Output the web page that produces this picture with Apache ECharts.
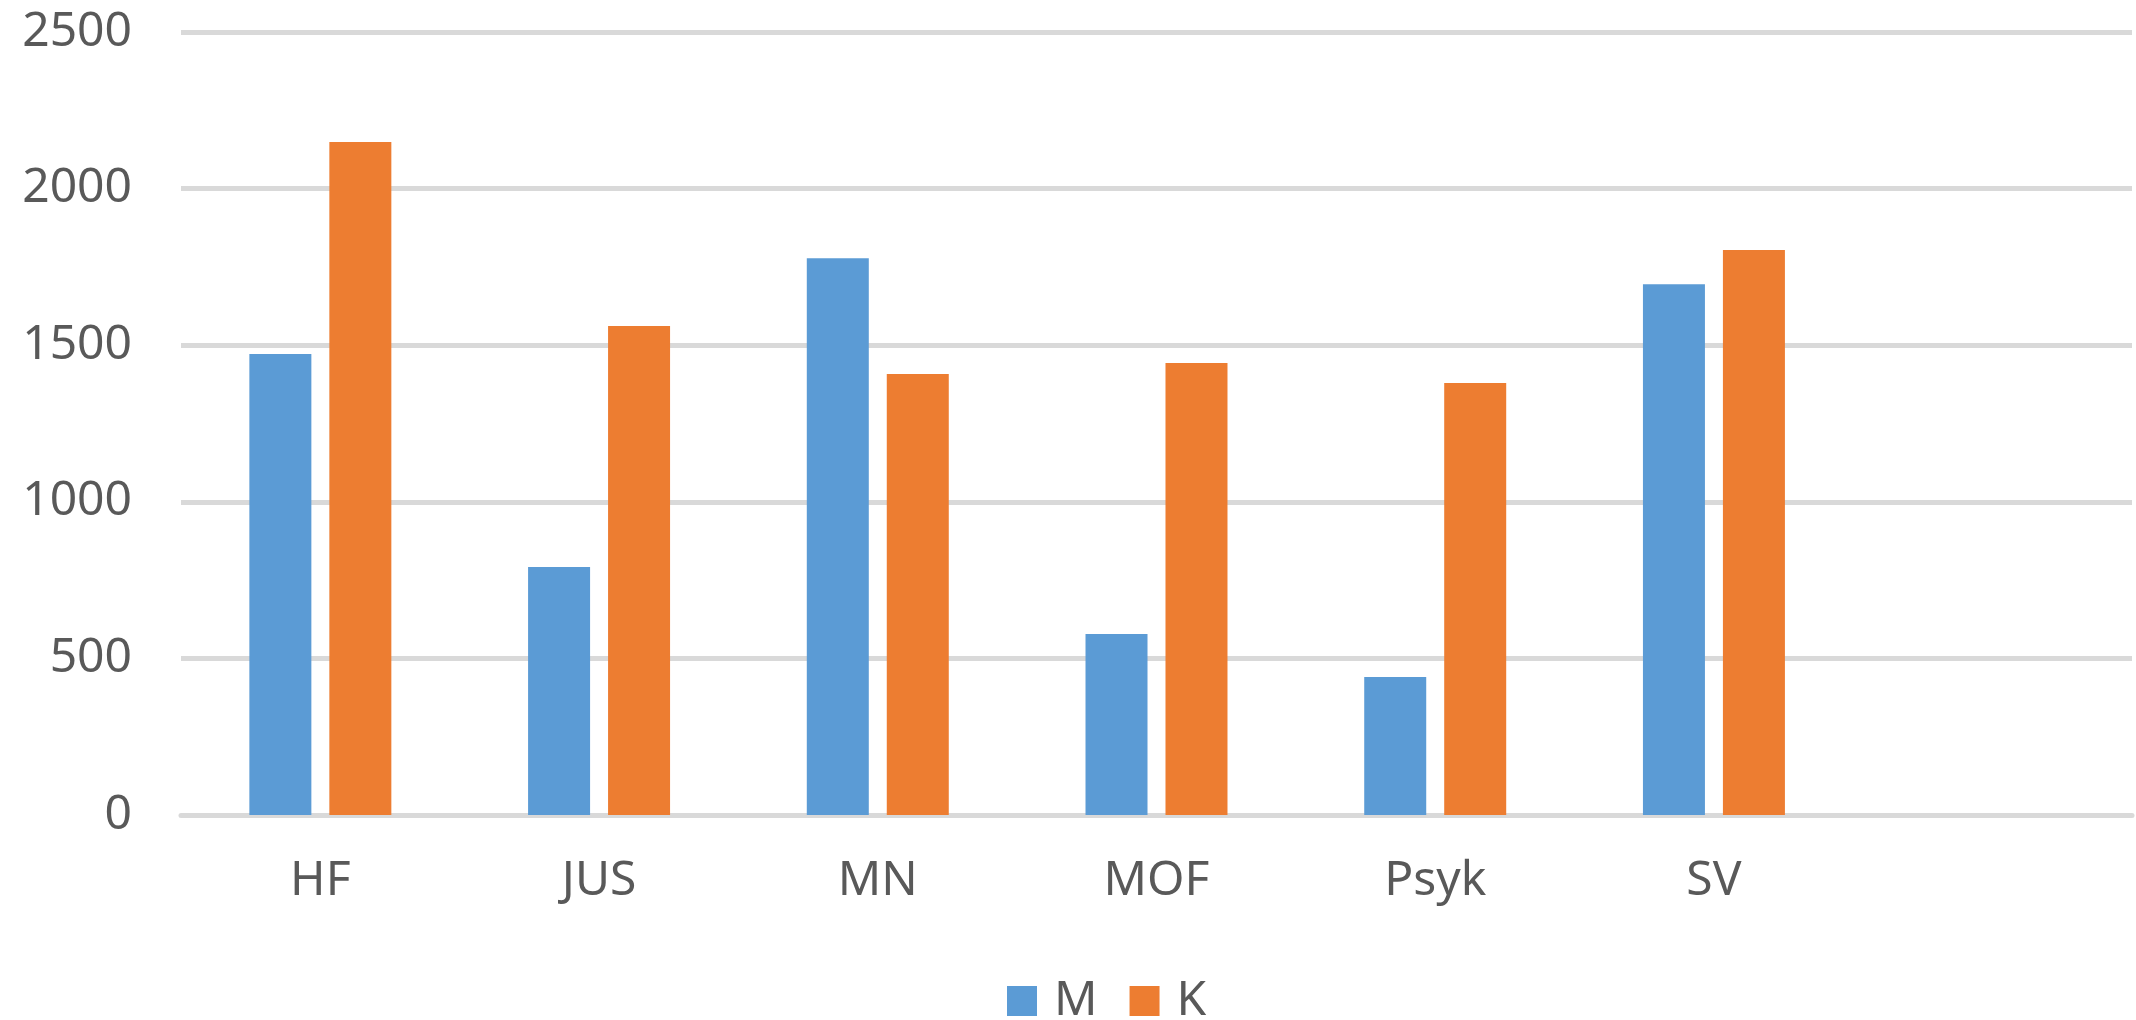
<!DOCTYPE html>
<html>
<head>
<meta charset="utf-8">
<script src="https://cdn.jsdelivr.net/npm/echarts@6/dist/echarts.min.js"></script>
<style>
  html, body { margin: 0; padding: 0; background: #ffffff; }
  #chart { width: 2136px; height: 1020px; }
</style>
</head>
<body>
<div id="chart"></div>
<script>
const categories = ['HF', 'JUS', 'MN', 'MOF', 'Psyk', 'SV', ''];
const seriesNames = ['M', 'K'];
const valuesM = [1472, 792, 1778, 578, 441, 1695, null];
const valuesK = [2149, 1561, 1408, 1443, 1379, 1804, null];
const yTicks = [0, 500, 1000, 1500, 2000, 2500];

const FONT = '"Noto Sans", "Open Sans", sans-serif';
const TEXT = '#595959';

const chart = echarts.init(document.getElementById('chart'), null, { renderer: 'canvas' });
chart.setOption({
  animation: false,
  backgroundColor: '#ffffff',
  color: ['#5B9BD5', '#ED7D31'],
  grid: { left: 181, right: 4, top: 32, bottom: 205, containLabel: false },
  legend: {
    data: seriesNames,
    left: 1002,
    top: 972,
    itemWidth: 30,
    itemHeight: 30,
    itemGap: 32,
    icon: 'rect',
    textStyle: { fontFamily: FONT, fontSize: 48, color: TEXT, padding: [0, 0, 0, 12] }
  },
  xAxis: {
    type: 'category',
    data: categories,
    axisLine: { show: true, lineStyle: { color: '#D9D9D9', width: 5 } },
    axisTick: { show: false },
    axisLabel: { fontFamily: FONT, fontSize: 48, color: TEXT, margin: 42 },
    splitLine: { show: false }
  },
  yAxis: {
    type: 'value',
    min: yTicks[0],
    max: yTicks[yTicks.length - 1],
    interval: yTicks[1] - yTicks[0],
    axisLine: { show: false },
    axisTick: { show: false },
    axisLabel: { fontFamily: FONT, fontSize: 48, color: TEXT, margin: 49, formatter: function (v) { return String(v); } },
    splitLine: { show: true, lineStyle: { color: '#D9D9D9', width: 5 } }
  },
  series: [
    { name: seriesNames[0], type: 'bar', data: valuesM, barWidth: 62, barGap: '29%' },
    { name: seriesNames[1], type: 'bar', data: valuesK, barWidth: 62, barGap: '29%' }
  ]
});
</script>
</body>
</html>
